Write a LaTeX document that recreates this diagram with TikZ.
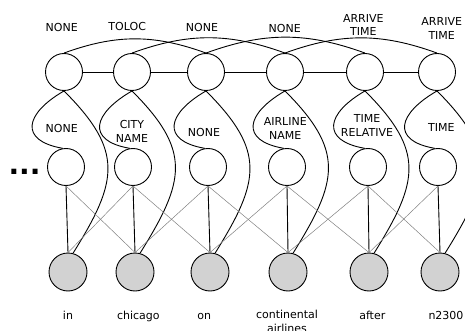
\documentclass[tikz,border=0pt]{standalone}
\usepackage{fontspec}
\setmainfont{DejaVu Sans}
\begin{document}
\begin{tikzpicture}[x=1pt,y=1pt,
  hid/.style={circle,draw,line width=0.9pt,minimum size=37pt,inner sep=0pt},
  obs/.style={hid,fill=gray!35,minimum size=38pt},
  lab/.style={font=\fontsize{11}{13.8}\selectfont,align=center,inner sep=0pt,anchor=base},
  edge/.style={line width=0.9pt},
  cross/.style={gray,line width=0.5pt}]
\useasboundingbox (0,0) rectangle (465,-331);
\clip (0,0) rectangle (465,-331);

% three layers of variables
\foreach \i/\xt/\xm/\xb in {1/64/66/68,2/132/133/135,3/206/208/210,4/285/287/288,5/365/368/369,6/437/438/440}{
  \node[hid] (t\i) at (\xt,-72) {};
  \node[hid] (m\i) at (\xm,-167) {};
  \node[obs] (b\i) at (\xb,-272) {};
}

% top layer chain and skip arcs
\foreach \i/\j in {1/2,2/3,3/4,4/5,5/6}
  \draw[edge] (t\i) -- (t\j);
\foreach \i/\j in {1/3,2/4,3/5,4/6}
  \draw[edge] (t\i.north) to[out=20,in=160] (t\j.north);

% top to middle and top to observation
\foreach \i in {1,...,6}{
  \draw[edge] (t\i.south) .. controls +(210:45) and +(170:45) .. (m\i.100);
  \draw[edge] (t\i.south) .. controls +(-45:85) and +(58:85) .. (b\i.75);
  \draw[edge] (m\i.south) -- (b\i.north);
}
\foreach \i/\j in {1/2,2/3,3/4,4/5,5/6}{
  \draw[cross] (m\i.south) -- (b\j.north);
  \draw[cross] (m\j.south) -- (b\i.north);
}

% labels of the top layer (base = last line)
\node[lab] (lt1) at (61.7,-32) {NONE};
\node[lab] (lt2) at (127.2,-31) {TOLOC};
\node[lab] (lt3) at (202,-32) {NONE};
\node[lab] (lt4) at (284.7,-33) {NONE};
\node[lab] (lt5) at (363.3,-36) {ARRIVE\\TIME};
\node[lab] (lt6) at (441.7,-39.5) {ARRIVE\\TIME};

% labels of the middle layer
\node[lab] (lm1) at (61.7,-133) {NONE};
\node[lab] (lm2) at (132,-142.7) {CITY\\NAME};
\node[lab] (lm3) at (204,-137) {NONE};
\node[lab] (lm4) at (285.3,-139.3) {AIRLINE\\NAME};
\node[lab] (lm5) at (367,-136.7) {TIME\\RELATIVE};
\node[lab] (lm6) at (441.3,-132) {TIME};

% words
\node[lab] (w1) at (68,-319) {in};
\node[lab] (w2) at (138.3,-319) {chicago};
\node[lab] (w3) at (204.3,-319) {on};
\node[lab] (w4) at (287,-332.3) {continental\\airlines};
\node[lab] (w5) at (372.3,-319) {after};
\node[lab] (w6) at (446,-319) {n2300};

% continuation mark
\node[font=\fontsize{28}{28}\bfseries,inner sep=0pt,anchor=base] (dots) at (24.5,-174.5) {...};
\end{tikzpicture}
\end{document}
